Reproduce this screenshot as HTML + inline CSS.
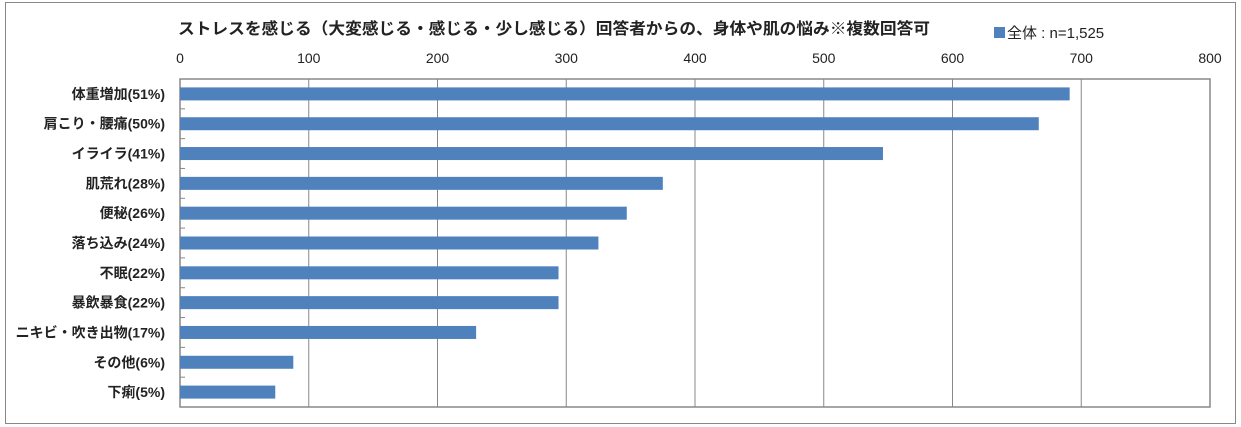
<!DOCTYPE html>
<html><head><meta charset="utf-8"><style>
body{margin:0;background:#fff;}
svg{display:block;font-family:"Liberation Sans","Noto Sans CJK JP",sans-serif;}
</style></head><body>
<svg id="c" width="1241" height="427">
<rect x="5.5" y="2.5" width="1230" height="421" fill="#fff" stroke="#888"/>
<text x="178" y="34" font-size="16" font-weight="bold" fill="#222" textLength="752" lengthAdjust="spacingAndGlyphs">ストレスを感じる（大変感じる・感じる・少し感じる）回答者からの、身体や肌の悩み※複数回答可</text>
<rect x="994" y="27" width="11" height="11" fill="#4f81bd"/>
<text x="1007" y="38" font-size="15" fill="#222">全体 : n=1,525</text>
</svg>
<script>
const categories=["体重増加(51%)","肩こり・腰痛(50%)","イライラ(41%)","肌荒れ(28%)","便秘(26%)","落ち込み(24%)","不眠(22%)","暴飲暴食(22%)","ニキビ・吹き出物(17%)","その他(6%)","下痢(5%)"];
const values=[691,667,546,375,347,325,294,294,230,88,74];
const ticks=[0,100,200,300,400,500,600,700,800];
const svg=document.getElementById('c');
const NS='http://www.w3.org/2000/svg';
const L=180,R=1210,T=79,B=407,MAX=800;
const x=v=>L+(R-L)*v/MAX;
const band=(B-T)/categories.length;
function mk(t,a){const e=document.createElementNS(NS,t);for(const k in a)e.setAttribute(k,a[k]);svg.appendChild(e);return e;}
ticks.forEach(t=>{
  if(t>0&&t<MAX){const g=mk('line',{x1:x(t),x2:x(t),y1:T,y2:B,stroke:'#888','stroke-width':1});
  
  }
  const tx=mk('text',{x:x(t),y:63,'font-size':14,'text-anchor':'middle',fill:'#222'});
  tx.textContent=t;
  
  
});
const pa=mk('rect',{x:L,y:T,width:R-L,height:B-T,fill:'none',stroke:'#888','stroke-width':1.5});


categories.forEach((c,i)=>{
  const cy=T+band*(i+0.5);
  const b=mk('rect',{x:L,y:cy-6.5,width:x(values[i])-L,height:13,fill:'#4f81bd'});
  
  
  const lb=mk('text',{x:165,y:cy+5,'font-size':14,'font-weight':'bold','text-anchor':'end',fill:'#222'});
  lb.textContent=c;
  
  
  if(i>0){const tk=mk('line',{x1:L,x2:L+5,y1:T+band*i,y2:T+band*i,stroke:'#888'});
  
  }
});
</script>
</body></html>
